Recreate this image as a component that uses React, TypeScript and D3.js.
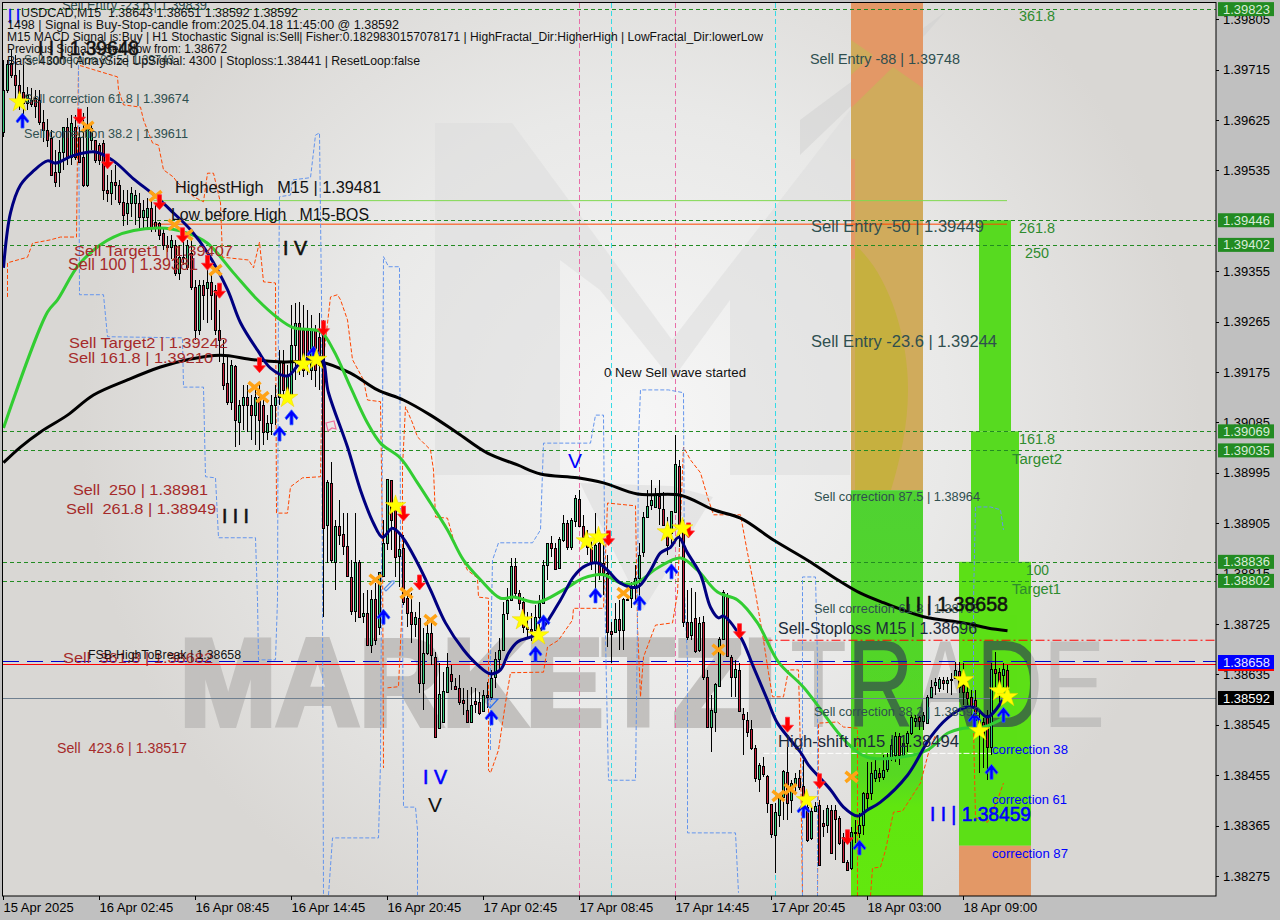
import React from 'react'
import * as d3 from 'd3'

// all price values below are points above 1.38000 (1 point = 0.00001)
const ohlcPoints: number[][] = [
  [1604,1732,1595,1679],[1679,1732,1673,1725],[1727,1750,1700,1705],[1705,1741,1661,1688],[1688,1714,1643,1674],
  [1675,1723,1625,1655],[1655,1684,1643,1670],[1660,1682,1648,1654],[1665,1679,1629,1650],[1661,1679,1616,1622],
  [1622,1643,1586,1607],[1607,1627,1577,1589],[1593,1607,1527,1527],[1532,1572,1505,1514],[1532,1589,1505,1568],
  [1568,1613,1536,1613],[1613,1629,1545,1559],[1559,1634,1545,1620],[1613,1634,1554,1559],[1595,1613,1548,1550],
  [1559,1638,1505,1509],[1509,1648,1505,1613],[1589,1622,1572,1611],[1589,1589,1548,1554],[1580,1584,1545,1554],
  [1584,1589,1482,1500],[1500,1527,1479,1495],[1495,1536,1473,1514],[1514,1545,1482,1509],[1509,1518,1473,1479],
  [1479,1500,1436,1455],[1459,1500,1438,1477],[1477,1505,1452,1495],[1477,1500,1438,1491],[1477,1495,1432,1452],
  [1452,1482,1432,1464],[1452,1486,1429,1468],[1468,1482,1425,1434],[1443,1473,1425,1434],[1441,1443,1411,1420],
  [1423,1432,1393,1402],[1402,1418,1389,1398],[1398,1420,1377,1411],[1402,1411,1346,1352],[1352,1402,1339,1380],
  [1380,1414,1366,1378],[1363,1411,1357,1402],[1387,1411,1322,1327],[1327,1339,1232,1250],[1250,1339,1241,1330],
  [1330,1339,1268,1313],[1325,1357,1263,1336],[1336,1348,1268,1313],[1322,1330,1241,1250],[1250,1286,1193,1232],
  [1191,1232,1143,1152],[1155,1202,1116,1122],[1122,1197,1107,1188],[1186,1188,1041,1089],[1086,1125,1045,1116],
  [1116,1152,1071,1130],[1130,1152,1068,1116],[1116,1134,1054,1098],[1098,1152,1045,1130],[1130,1152,1036,1089],
  [1116,1134,1045,1068],[1068,1098,1054,1084],[1084,1134,1063,1116],[1116,1152,1080,1130],[1130,1214,1116,1191],
  [1191,1214,1134,1143],[1134,1188,1125,1170],[1134,1295,1130,1223],[1223,1298,1161,1263],[1263,1300,1170,1191],
  [1250,1295,1166,1179],[1250,1286,1170,1202],[1179,1277,1161,1250],[1250,1259,1148,1179],[1238,1280,1143,1188],
  [1255,1268,738,896],[902,982,834,978],[977,1014,834,839],[836,911,786,900],[900,946,866,884],
  [886,923,848,864],[864,923,809,811],[809,839,741,748],[748,923,729,836],[836,839,737,737],
  [739,780,727,745],[745,786,688,688],[688,786,673,770],[770,798,688,696],[720,818,705,818],
  [811,911,811,870],[870,984,857,984],[982,982,857,911],[941,946,809,845],[846,884,791,859],
  [861,884,759,764],[771,782,720,745],[746,780,691,725],[725,746,702,737],[736,764,602,620],
  [620,718,571,673],[673,732,670,709],[709,732,652,670],[666,675,523,523],[539,655,539,600],
  [550,639,550,605],[604,673,604,648],[636,652,607,623],[614,629,607,609],[611,634,580,586],
  [589,611,562,584],[571,607,550,550],[550,612,550,580],[587,611,566,582],[586,604,562,566],
  [570,607,570,598],[598,621,575,595],[595,643,589,629],[630,675,611,662],[662,700,643,679],
  [679,764,679,743],[745,789,732,768],[768,843,768,829],[829,843,771,780],[780,786,750,762],
  [764,773,709,720],[720,746,702,716],[716,745,695,712],[714,759,714,737],[737,777,714,762],
  [762,839,762,830],[830,870,804,870],[870,882,845,861],[861,870,821,823],[825,880,825,877],
  [875,920,871,905],[905,911,857,862],[862,914,857,911],[909,955,898,950],[948,964,898,900],
  [900,920,866,880],[880,893,848,862],[862,875,821,834],[834,923,786,866],[870,893,804,816],
  [834,866,777,816],[816,848,684,711],[712,729,655,707],[711,762,711,734],[734,768,679,714],
  [714,771,679,770],[770,777,768,768],[771,800,754,789],[789,830,768,807],[807,870,755,848],
  [854,925,845,916],[916,964,916,936],[937,982,929,946],[934,968,932,955],[953,982,902,932],
  [930,961,902,902],[902,916,848,866],[888,927,862,927],[925,1063,925,1011],[1007,1018,862,898],
  [902,911,720,729],[729,786,696,702],[705,789,696,729],[736,782,673,677],[679,737,675,727],
  [729,739,625,630],[630,643,541,541],[541,598,496,571],[568,620,532,618],[614,702,614,698],
  [698,786,698,782],[777,780,668,668],[666,670,595,630],[630,661,595,645],[643,655,570,570],
  [564,575,491,555],[554,568,523,532],[537,554,500,504],[504,509,443,450],[448,477,425,473],
  [471,487,452,457],[454,455,387,405],[404,404,343,350],[348,405,280,389],[384,423,363,416],
  [416,464,375,462],[461,505,375,405],[411,446,387,441],[438,459,423,450],[450,464,429,434],
  [436,482,387,398],[398,407,336,339],[343,398,339,391],[391,407,391,400],[402,411,295,295],
  [370,393,345,364],[366,402,352,396],[393,402,316,316],[393,402,304,377],[379,382,330,334],
  [345,352,298,300],[300,304,286,286],[289,362,286,354],[354,375,334,352],[352,387,343,366],
  [366,425,348,423],[423,479,393,414],[423,479,411,459],[450,486,443,464],[459,468,443,452],
  [452,491,446,464],[466,495,461,484],[486,520,480,509],[491,532,479,525],[525,530,473,491],
  [491,518,486,512],[512,534,496,530],[530,562,527,559],[552,562,541,557],[559,562,536,552],
  [552,568,536,562],[548,598,548,595],[595,625,595,612],[616,629,598,621],[611,630,604,627],
  [625,630,607,620],[620,630,602,625],[625,637,598,627],[629,657,629,643],[641,657,602,612],
  [616,655,580,604],[604,629,580,593],[595,607,554,577],[589,607,543,554],[554,568,459,536],
  [550,557,468,527],[563,571,446,505],[505,655,491,645],[645,675,612,638],[639,646,577,611],
  [634,655,612,645],[643,651,592,592],
]

const fastMa: [number, number][] = [
  [0,1361],[1.75,1459],[4.25,1509],[7.5,1534],[11,1552],[13,1548],[17.25,1561],[23,1568],[27.5,1552],[32.5,1520],
  [38,1489],[42.5,1459],[46.75,1429],[51,1388],[56,1322],[59.25,1263],[63.5,1214],[66.75,1182],[71,1168],[74.25,1191],
  [79.25,1202],[81.25,1138],[86,1041],[89.25,964],[92.5,905],[94.75,880],[97.25,896],[99.75,880],[103.5,834],[106.75,786],
  [110.5,727],[115,679],[118.5,652],[121.75,636],[124.25,643],[126.25,673],[128.5,693],[132.5,704],[135,720],[139.25,768],
  [142.5,809],[145,827],[148.5,834],[151,821],[154.25,798],[158.5,791],[161.75,821],[164.25,852],[166.75,862],[168.75,880],
  [171,852],[174.25,813],[176.75,755],[178.75,736],[180,739],[184.25,702],[187.5,648],[191,589],[193.5,548],[199.25,496],
  [201.25,473],[203.5,455],[206.75,429],[210,398],[213.5,382],[216,393],[219.25,407],[226,455],[231.75,523],[236,557],
  [240,575],[243,575],[246,559],[249.75,589],
]

const midMa: [number, number][] = [
  [0,1075],[11,1282],[13.5,1304],[19.25,1370],[27.5,1416],[38.5,1432],[46,1423],[51,1405],[57.5,1352],[63.5,1304],
  [68.5,1272],[72.5,1254],[79.25,1247],[82.5,1214],[86.75,1148],[91,1084],[94.25,1048],[99.25,1021],[103.5,977],[106.75,941],
  [111,893],[115,839],[119.25,804],[124.25,771],[127.5,773],[133.5,764],[140,786],[145,807],[150,813],[154.25,798],
  [158,798],[163.5,825],[169.25,843],[173.5,821],[178.5,782],[183.5,768],[188.5,727],[193.75,657],[200,612],[211,512],
  [216,487],[224.25,487],[231,500],[236,530],[240,539],[245,541],[250,557],
]

const slowMa: [number, number][] = [
  [0,1013],[4.25,1041],[9.25,1068],[16,1098],[22.5,1134],[31,1161],[39.25,1184],[46,1197],[54.25,1205],[62.5,1197],
  [70,1193],[79.25,1193],[86.75,1173],[93.5,1143],[100,1125],[106.75,1098],[113.5,1066],[121,1030],[128.5,1009],[134.25,993],
  [143.5,986],[150,977],[158.5,957],[169.25,955],[177.5,929],[184.25,914],[192.5,875],[201,839],[208.5,804],[214.25,780],
  [220,763],[230,738],[240,727],[246,718],[251,713],
]

const upperBandRuns: [number, number][][] = [
  [[1,1309],[1,1370],[6,1380],[7.25,1405],[11.75,1411],[14.25,1416],[18.25,1416],[18.75,1723],[28.5,1702],[28.75,1679],
   [30,1652],[34.25,1648],[35,1625],[37.25,1584],[38.75,1580],[40,1536],[42.5,1523],[43.5,1513],[47.5,1488],[50,1479],
   [51,1530],[52.5,1530],[54.25,1477],[54.75,1380],[61.25,1375],[62.5,1361],[64,1407],[65,1336],[68,1334],[68.25,923],
   [71,923],[71.75,970],[74.75,986],[79.25,988],[79.75,1184],[81.75,1309],[83.5,1313],[84.25,1304],[86,1268],[87.25,1197],
   [90,1161],[91,1125],[94.25,1122],[94.75,880],[95,468]],
  [[96,611],[98.75,613],[99.75,768],[99.75,1005],[100.5,1113],[102.25,1084],[103.5,1059],[106.75,1036],[107.5,1000],[108,916],
   [111,914],[112.5,875],[116,821],[118.5,807],[118.75,773],[121.25,771],[121.25,464],[121.75,459],[123.75,500],[125.5,584],
   [126.75,638],[135,639],[136,684],[138.75,696],[142.25,732],[142.5,753],[150,753],[151,941],[158,936],[158.5,720],
   [159.25,595],[160,666],[163,723],[167.25,727],[168.5,780],[170,1041],[171.75,1018],[174.25,995],[176,952],[177.5,920],
   [184.25,920],[186,852],[188,780],[190,696],[191.25,638],[192.25,595],[195,595],[196.25,643],[198.75,643],[199.25,495],
   [199.75,239]],
  [[203.5,239],[203.75,548],[208.5,550],[210,541],[213.5,539],[213.5,239]],
  [[216.75,239],[217.25,289],[219.25,291],[220.5,321],[222.5,389],[224.75,391],[229.25,441],[231.25,495],[233,527]],
  [[242.5,541],[243,379],[246,371],[248.5,411],[250,441]],
]

const lowerBandRuns: [number, number][][] = [
  [[18.75,1723],[19,1313],[25,1313],[26,1238],[44.75,1236],[45,1148],[50,1148],[50.5,988],[53,986],[53.75,879],
   [63,879],[63.5,768],[63.75,661],[68,661],[68.5,768],[68.75,1304],[69,1488],[71.75,1491],[72.25,1518],[76.75,1522],
   [78,1598],[79,1602],[79.5,1309],[79.75,768],[80,239]],
  [[81.25,241],[82.25,343],[93.75,343],[94.25,477],[95,1381],[96.25,1363],[99,1363],[99.25,888],[99.75,773],[100,398],
   [103,398],[103.5,357],[103.5,241]],
  [[121.75,500],[121.75,661],[122.25,839],[123.75,870],[132.25,870],[134.25,893],[135,1048],[146.75,1048],[148,1098],[150,1098],
   [150.5,702],[151,530],[151.25,446],[158,446],[158.5,732],[158.75,1054],[159.25,1143],[166.25,1143],[170,1138],[170.25,780],
   [171,661],[171,352],[183,352],[183.75,245]],
  [[199.75,239],[199.75,809],[203,809],[203.5,661],[203.5,239]],
  [[242.5,541],[242.5,768],[243,934],[246.75,934],[249.25,929],[250,893]],
]

const stars: [number, number][] = [
  [4,1657],[75,1189],[78.25,1197],[71,1129],[98,936],[129.75,732],[133.75,705],[145.75,873],[148.75,880],[166,889],
  [169.75,896],[200.75,411],[240,625],[249,605],[251,595],[244,534],
]
const sellArrows: [number, number][] = [
  [19,1632],[26,1552],[39,1479],[44.75,1420],[51,1371],[54,1321],[64,1188],[80,1254],[100,923],[104,800],
  [151.25,879],[171.25,893],[184,713],[196,546],[204,445],[211,345],
]
const buyArrows: [number, number][] = [
  [4.75,1625],[69,1066],[72,1095],[77.5,1209],[95,739],[122,559],[133,673],[135,729],[148,777],[159,764],
  [167,820],[200,393],[214,327],[250,564],[247,462],[242.75,555],
]
const crosses: [number, number][] = [
  [21,1613],[38,1489],[42.75,1438],[45.75,1420],[53,1357],[62.75,1148],[64.75,1130],[93,804],[100.75,780],[106.75,732],
  [155,780],[178.75,679],[193.75,418],[196.75,430],[212,452],
]

const priceTicks = [1.39805,1.39715,1.39625,1.39535,1.39355,1.39265,1.39175,1.39085,1.38995,1.38905,1.38815,1.38725,1.38635,1.38545,1.38455,1.38365,1.38275]
const levelPrices = [1.39823,1.39446,1.39402,1.39069,1.39035,1.38836,1.38802]
const timeLabels = ['15 Apr 2025','16 Apr 02:45','16 Apr 08:45','16 Apr 14:45','16 Apr 20:45','17 Apr 02:45','17 Apr 08:45','17 Apr 14:45','17 Apr 20:45','18 Apr 03:00','18 Apr 09:00']
const timeLabelBars = [0,24,48,72,96,120,144,168,192,216,240]
const pinkBars = [144,168]
const cyanBars = [152,193]

const headerLines = [
  'USDCAD,M15  1.38643 1.38651 1.38592 1.38592',
  '1498 | Signal is Buy-Stop-candle from:2025.04.18 11:45:00 @ 1.38592',
  'M15 MACD Signal is:Buy | H1 Stochastic Signal is:Sell| Fisher:0.1829830157078171 | HighFractal_Dir:HigherHigh | LowFractal_Dir:lowerLow',
  'Previous Signal is:Sell Now from: 1.38672',
  'Bars: 4300 | ArraySize UpSignal: 4300 | Stoploss:1.38441 | ResetLoop:false',
]
const headerWidths = [277, 392, 756, 220, 413]

const W = 1280
const H = 920
const plotRight = 1216
const plotBottom = 896

const x = d3.scaleLinear().domain([0, 251]).range([3.5, 1007.5])
const y = d3.scaleLinear().domain([1.38275, 1.39805]).range([876, 19.2])
const price = (points: number) => 1.38 + points / 1e5
const py = (points: number) => y(price(points))

const linePath = d3
  .line<[number, number]>()
  .x(d => x(d[0]))
  .y(d => py(d[1]))
const smoothPath = d3
  .line<[number, number]>()
  .x(d => x(d[0]))
  .y(d => py(d[1]))
  .curve(d3.curveCatmullRom.alpha(0.5))

const starPath = d3.symbol().type(d3.symbolStar).size(135)() as string

const slate = '#2f4f4f'
const brown = '#a52a2a'
const level = '#2e8b2e'

// x, centre y, width, size, colour, text
const labelLayout: [number, number, number, number, string, string][] = [
  [62, 5, 145, 14, slate, 'Sell Entry -23.6 | 1.39839'],
  [24, 60, 150, 12, slate, 'Sell correction 87.5 | 1.39743'],
  [24, 99, 165, 12, slate, 'Sell correction 61.8 | 1.39674'],
  [24, 134, 164, 12, slate, 'Sell correction 38.2 | 1.39611'],
  [810, 59, 150, 14, slate, 'Sell Entry -88 | 1.39748'],
  [811, 226, 173, 16, slate, 'Sell Entry -50 | 1.39449'],
  [811, 341, 186, 16, slate, 'Sell Entry -23.6 | 1.39244'],
  [814, 497, 166, 12, slate, 'Sell correction 87.5 | 1.38964'],
  [814, 609, 166, 12, slate, 'Sell correction 61.8 | 1.38705'],
  [814, 712, 166, 12, slate, 'Sell correction 38.2 | 1.38592'],
  [74, 250, 159, 15, brown, 'Sell Target1 | 1.39407'],
  [68, 264, 130, 16, brown, 'Sell 100 | 1.39381'],
  [69, 342, 159, 15, brown, 'Sell Target2 | 1.39242'],
  [68, 357, 145, 15, brown, 'Sell 161.8 | 1.39210'],
  [73, 489, 135, 15, brown, 'Sell  250 | 1.38981'],
  [66, 508, 150, 15, brown, 'Sell  261.8 | 1.38949'],
  [63, 657, 150, 15, brown, 'Sell  361.8 | 1.38682'],
  [57, 748, 130, 14, brown, 'Sell  423.6 | 1.38517'],
  [88, 655, 153, 12, '#111', 'FSB-HighToBreak | 1.38658'],
  [175, 187, 206, 16, '#111', 'HighestHigh   M15 | 1.39481'],
  [171, 214, 198, 16, '#111', 'Low before High   M15-BOS'],
  [604, 372, 142, 13, '#111', '0 New Sell wave started'],
  [778, 628, 199, 16, '#1c2a3a', 'Sell-Stoploss M15 | 1.38696'],
  [778, 741, 181, 16, '#1c2a3a', 'High-shift m15 | 1.38494'],
  [38, 47, 101, 21, '#111', 'I I | 1.39648'],
  [905, 603, 103, 21, '#111', 'I I | 1.38658'],
  [930, 813, 101, 21, '#0000ff', 'I I | 1.38459'],
  [283, 248, 24, 20, '#111', 'I V'],
  [222, 516, 27, 20, '#111', 'I I I'],
  [568, 461, 14, 20, '#0000ff', 'V'],
  [423, 777, 24, 20, '#0000ff', 'I V'],
  [428, 805, 14, 20, '#111', 'V'],
  [8, 16, 12, 20, '#0000ff', 'I I'],
  [992, 750, 76, 12.5, '#0000ff', 'correction 38'],
  [992, 800, 75, 12.5, '#0000ff', 'correction 61'],
  [992, 854, 76, 12.5, '#0000ff', 'correction 87'],
  [1019, 16, 36, 14, level, '361.8'],
  [1019, 228, 36, 14, level, '261.8'],
  [1025, 253, 24, 14, level, '250'],
  [1019, 439, 36, 14, level, '161.8'],
  [1012, 459, 50, 14, level, 'Target2'],
  [1026, 570, 23, 14, level, '100'],
  [1012, 589, 49, 14, level, 'Target1'],
]

// bar range and price range of the coloured target / entry zones
const greenZones: [number, number, number, number][] = [
  [212, 230, 239, 964],
  [244, 252, 1069, 1446],
  [242, 254, 836, 1069],
  [239, 257, 329, 836],
]

const zoneRect = (z: [number, number, number, number], key: string, fill: string) => (
  <rect
    key={key}
    x={x(z[0]) - 0.5}
    width={x(z[1]) - x(z[0])}
    y={py(z[3])}
    height={py(z[2]) - py(z[3])}
    fill={fill}
  />
)

const App: React.FunctionComponent = () => {
  const sans = '"Liberation Sans", Arial, sans-serif'
  return (
    <svg
      width={W}
      height={H}
      viewBox={`0 0 ${W} ${H}`}
      style={{ position: 'fixed', left: 0, top: 0, display: 'block' }}
      fontFamily={sans}
    >
      <defs>
        <radialGradient id="paper" gradientUnits="userSpaceOnUse" cx={640} cy={420} r={560}>
          <stop offset="0" stopColor="#f6f6f6" />
          <stop offset="0.55" stopColor="#e9e9e8" />
          <stop offset="1" stopColor="#d9d7d4" />
        </radialGradient>
        <linearGradient id="zoneGreen" x1="0" x2="0" y1="0" y2="1">
          <stop offset="0" stopColor="#4fd232" />
          <stop offset="0.7" stopColor="#56d822" />
          <stop offset="0.78" stopColor="#60e60f" />
          <stop offset="1" stopColor="#62e80e" />
        </linearGradient>
        <clipPath id="plot">
          <rect x={3} y={3} width={plotRight - 3} height={plotBottom - 3} />
        </clipPath>
        <clipPath id="greenOnly">
          <rect x={851} y={490} width={72} height={406} />
          <rect x={959} y={561} width={72} height={335} />
        </clipPath>
      </defs>

      <rect width={W} height={H} fill="#c0c0c0" />
      <rect x={3} y={3} width={plotRight - 3} height={plotBottom - 3} fill="url(#paper)" />

      <g clipPath="url(#plot)">
        {/* logo behind the chart */}
        <path d="M435 123H512L672 340L850 110V475H730V300L672 380L600 290L560 260V475H435Z" fill="#dcdcdc" opacity={0.55} />
        <path d="M580 483L643 610L713 497L672 486Z" fill="#dcdcdc" opacity={0.6} />
        <path d="M800 120L945 12L925 35L800 155Z" fill="#cfcfcf" opacity={0.5} />
        <text x={180} y={725} fontSize={122} fontWeight={700} fill="#c2c0be" stroke="#c2c0be" strokeWidth={6} strokeLinejoin="miter" textLength={596} lengthAdjust="spacingAndGlyphs">MARKETZI</text>
        <text x={790} y={727} fontSize={124} fill="#c2c1bf" textLength={315} lengthAdjust="spacingAndGlyphs">TRADE</text>

        {/* zones */}
        <rect x={851} y={3} width={72} height={487} fill="#e39866" />
        <path d="M851 108L893 67L923 88V490H851Z" fill="#d0ab5c" />
        <path d="M851 40L873 55L851 75Z" fill="#d0ab5c" />
        <path d="M855 245C885 270 908 330 908 390C908 425 900 460 891 490H855Z" fill="#c6b03f" />
        <rect x={851} y={159} width={4} height={100} fill="#e39866" />
        {zoneRect(greenZones[0], 'z0', 'url(#zoneGreen)')}
        {greenZones.slice(1).map((z, i) => zoneRect(z, `z${i + 1}`, i === 2 ? '#5ce016' : '#57da20'))}
        <rect x={x(239) - 0.5} width={72} y={py(329)} height={plotBottom - py(329)} fill="#e39866" />
        <g clipPath="url(#greenOnly)">
          <text x={790} y={727} fontSize={124} fill="#34494e" opacity={0.7} textLength={315} lengthAdjust="spacingAndGlyphs">TRADE</text>
        </g>

        {/* vertical session lines */}
        {pinkBars.map(b => (
          <line key={b} x1={x(b)} x2={x(b)} y1={3} y2={plotBottom} stroke="#e86ea8" strokeDasharray="5 3" />
        ))}
        {cyanBars.map(b => (
          <line key={b} x1={x(b)} x2={x(b)} y1={3} y2={plotBottom} stroke="#35dbe6" strokeDasharray="5 3" />
        ))}

        {/* horizontal levels */}
        {levelPrices.map(p => (
          <line key={p} x1={3} x2={plotRight} y1={Math.round(y(p)) + 0.5} y2={Math.round(y(p)) + 0.5} stroke="#228b22" strokeDasharray="4 3" />
        ))}
        <line x1={3} x2={plotRight} y1={698.5} y2={698.5} stroke="#708090" />
        <line x1={3} x2={plotRight} y1={661.5} y2={661.5} stroke="#0000cd" strokeDasharray="16 8" />
        <line x1={3} x2={plotRight} y1={664.5} y2={664.5} stroke="#ff0000" />
        <line x1={x(190)} x2={plotRight} y1={y(1.38696)} y2={y(1.38696)} stroke="#ff0000" strokeDasharray="9 3 2 3" />
        <line x1={x(37.5)} x2={1007} y1={y(1.39481)} y2={y(1.39481)} stroke="#80d850" />
        <line x1={x(37)} x2={1007} y1={y(1.39439)} y2={y(1.39439)} stroke="#ff4500" />
        <line x1={x(190)} x2={992} y1={y(1.38494)} y2={y(1.38494)} stroke="#ffffff" strokeDasharray="6 2" />

        {/* step bands */}
        {upperBandRuns.map((run, i) => (
          <path key={i} d={linePath(run) as string} fill="none" stroke="#ff4500" strokeDasharray="4 2" />
        ))}
        {lowerBandRuns.map((run, i) => (
          <path key={i} d={linePath(run) as string} fill="none" stroke="#6495ed" strokeDasharray="4 2" />
        ))}

        {/* candles */}
        {ohlcPoints.map((c, i) => {
          const [o, h, l, cl] = c
          const cx = Math.round(x(i) - 0.5) + 0.5
          const top = Math.round(py(Math.max(o, cl))) + 0.5
          const bottom = Math.round(py(Math.min(o, cl))) + 0.5
          return (
            <g key={i} shapeRendering="crispEdges">
              <line x1={cx} x2={cx} y1={py(h)} y2={py(l)} stroke="#000" />
              <rect
                x={cx - 1}
                y={top}
                width={2}
                height={Math.max(bottom - top, 1)}
                fill={cl >= o ? '#32c878' : '#c8203c'}
                stroke="#000"
              />
            </g>
          )
        })}

        {/* moving averages */}
        <path d={smoothPath(slowMa) as string} fill="none" stroke="#000" strokeWidth={3} />
        <path d={smoothPath(midMa) as string} fill="none" stroke="#32cd32" strokeWidth={3} />
        <path d={smoothPath(fastMa) as string} fill="none" stroke="#000080" strokeWidth={3} />

        {/* signals */}
        {crosses.map((d, i) => (
          <path
            key={i}
            transform={`translate(${x(d[0])},${py(d[1])})`}
            d="M-6 -5L6 5M-6 5L6 -5"
            stroke="#ffa316"
            strokeWidth={3.5}
            fill="none"
          />
        ))}
        {sellArrows.map((d, i) => (
          <path
            key={i}
            transform={`translate(${x(d[0])},${py(d[1])})`}
            d="M-2 -7H2V1H6L0 8L-6 1H-2Z"
            fill="#ff0000"
            stroke="#ff3040"
            strokeWidth={0.8}
          />
        ))}
        {buyArrows.map((d, i) => (
          <path
            key={i}
            transform={`translate(${x(d[0])},${py(d[1])})`}
            d="M-1.5 8H1.5V-1L5 3L6.5 1L0 -7L-6.5 1L-5 3L-1.5 -1Z"
            fill="#0000ff"
            stroke="#2a5cff"
            strokeWidth={0.8}
          />
        ))}
        {stars.map((d, i) => (
          <path key={i} transform={`translate(${x(d[0])},${py(d[1])})`} d={starPath} fill="#ffff00" stroke="#f0d000" strokeWidth={0.5} />
        ))}
        <path d="M326 423L334 421L336 429L332 428L328 431Z" fill="none" stroke="#ef6f9a" strokeWidth={1.2} />
        <path d="M392 581L384 589L386 591L394 583V581Z" fill="none" stroke="#5c8fe8" strokeWidth={1.2} />
        <path d="M488 699H498L490 708L488 706Z" fill="none" stroke="#2a6cf0" strokeWidth={1.2} />

        {/* text on the chart */}
        {labelLayout.map(([lx, ly, lw, size, colour, text], i) => (
          <text
            key={i}
            x={lx}
            y={ly}
            fontSize={size}
            fill={colour}
            stroke={text.startsWith('I') ? colour : 'none'}
            strokeWidth={0.6}
            dominantBaseline="central"
            textLength={lw}
            lengthAdjust="spacingAndGlyphs"
            xmlSpace="preserve"
          >
            {text}
          </text>
        ))}
        {headerLines.map((t, i) => (
          <text
            key={i}
            x={i === 0 ? 21 : 7}
            y={17 + i * 12}
            fontSize={12}
            fill="#111"
            textLength={headerWidths[i]}
            lengthAdjust="spacingAndGlyphs"
            xmlSpace="preserve"
          >
            {t}
          </text>
        ))}
      </g>

      {/* frame and axes */}
      <rect x={2.5} y={2.5} width={plotRight - 2.5} height={plotBottom - 2.5} fill="none" stroke="#000" />
      {priceTicks.map(p => (
        <g key={p}>
          <line x1={plotRight} x2={plotRight + 3} y1={Math.round(y(p)) + 0.5} y2={Math.round(y(p)) + 0.5} stroke="#000" />
          <text x={1223} y={y(p) + 4.5} fontSize={13} fill="#000">
            {d3.format('.5f')(p)}
          </text>
        </g>
      ))}
      {timeLabels.map((t, i) => (
        <g key={t}>
          <line x1={x(timeLabelBars[i])} x2={x(timeLabelBars[i])} y1={plotBottom} y2={plotBottom + 4} stroke="#000" />
          <text x={x(timeLabelBars[i])} y={912} fontSize={13} fill="#000">
            {t}
          </text>
        </g>
      ))}

      {/* price tags */}
      {levelPrices.map(p => (
        <g key={p}>
          <rect x={1218} width={56} y={y(p) - 7} height={14} fill="#228b22" />
          <text x={1223} y={y(p) + 4.5} fontSize={13} fill="#d8ecd8">
            {d3.format('.5f')(p)}
          </text>
        </g>
      ))}
      <rect x={1218} width={56} y={655} height={14} fill="#0000ff" />
      <rect x={1218} width={56} y={669} height={2} fill="#ff0000" />
      <text x={1223} y={667} fontSize={13} fill="#e8e8ff">1.38658</text>
      <rect x={1218} width={56} y={691} height={14} fill="#000" />
      <text x={1223} y={703} fontSize={13} fill="#fff">1.38592</text>
    </svg>
  )
}

export default App
